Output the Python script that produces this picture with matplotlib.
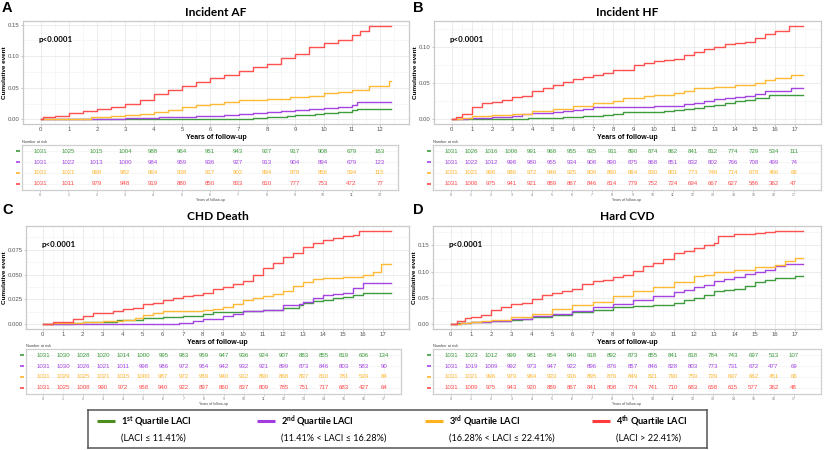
import matplotlib
matplotlib.use("Agg")
import matplotlib.pyplot as plt
import matplotlib.transforms as mtransforms
import numpy as np

plt.rcParams["font.family"] = ["Liberation Sans", "DejaVu Sans"]
plt.rcParams["mathtext.fontset"] = "custom"
plt.rcParams["mathtext.rm"] = "Lato:bold"
plt.rcParams["mathtext.bf"] = "Lato:bold"

# ------------------------------------------------------------
# Data
# ------------------------------------------------------------
quartiles = ["1st", "2nd", "3rd", "4th"]

# Incident AF
af_end = 12.4
af_q1_t = [0, 6.8, 7.5, 8.0, 8.7, 9.0, 9.7, 10.0, 10.5, 11.0, 11.2]
af_q1_y = [0, 0.001, 0.002, 0.004, 0.005, 0.007, 0.008, 0.010, 0.012, 0.014, 0.017]
af_q2_t = [0, 0.8, 3.0, 4.2, 5.0, 5.5, 6.0, 6.5, 7.0, 7.5, 8.0, 8.5, 9.0, 9.5, 10.0, 10.5, 11.0, 11.2]
af_q2_y = [0, 0.001, 0.002, 0.003, 0.004, 0.005, 0.006, 0.007, 0.008, 0.010, 0.012, 0.013, 0.015,
           0.016, 0.018, 0.020, 0.022, 0.028]
af_q3_t = [0, 1.3, 1.8, 2.5, 3.0, 3.5, 4.0, 4.5, 5.0, 5.5, 6.0, 6.5, 7.0, 8.0, 8.8, 9.5, 10.0,
           10.5, 11.0, 11.6, 12.3]
af_q3_y = [0, 0.001, 0.004, 0.006, 0.007, 0.009, 0.012, 0.015, 0.019, 0.022, 0.025, 0.027, 0.030,
           0.032, 0.035, 0.037, 0.041, 0.044, 0.046, 0.052, 0.061]
af_q4_t = [0, 0.1, 0.5, 1.0, 1.5, 2.0, 2.5, 3.0, 3.5, 4.0, 4.5, 5.0, 5.5, 6.0, 6.5, 7.0, 7.5, 8.0,
           8.5, 9.0, 9.5, 10.0, 10.5, 11.0, 11.3, 11.6]
af_q4_y = [0, 0.004, 0.006, 0.010, 0.013, 0.016, 0.019, 0.025, 0.030, 0.040, 0.047, 0.052, 0.059,
           0.066, 0.070, 0.076, 0.083, 0.088, 0.097, 0.103, 0.114, 0.121, 0.126, 0.133, 0.140, 0.148]
af_years = list(range(0, 13))
af_risk_q1 = [1031, 1025, 1015, 1004, 988, 964, 951, 943, 927, 917, 908, 679, 163]
af_risk_q2 = [1031, 1022, 1013, 1000, 984, 959, 936, 927, 913, 904, 894, 679, 123]
af_risk_q3 = [1031, 1021, 998, 982, 964, 938, 917, 902, 894, 878, 856, 594, 115]
af_risk_q4 = [1031, 1011, 979, 948, 919, 880, 850, 833, 810, 777, 753, 472, 77]

# Incident HF
hf_end = 17.4
hf_q1_t = [0, 3.8, 5.5, 6.5, 7.0, 7.5, 8.0, 8.5, 10.5, 11.0, 11.5, 12.0, 12.5, 13.0, 13.5, 14.0,
           14.5, 15.0, 15.7]
hf_q1_y = [0, 0.002, 0.003, 0.004, 0.005, 0.006, 0.008, 0.010, 0.012, 0.013, 0.015, 0.016, 0.018,
           0.020, 0.022, 0.025, 0.027, 0.030, 0.034]
hf_q2_t = [0, 0.8, 2.0, 3.0, 3.5, 4.0, 5.0, 5.5, 6.0, 6.5, 7.0, 10.0, 11.0, 11.5, 12.0, 12.5, 13.0,
           13.5, 14.0, 14.5, 15.0, 15.5, 16.8]
hf_q2_y = [0, 0.002, 0.003, 0.004, 0.007, 0.009, 0.010, 0.011, 0.013, 0.015, 0.017, 0.018, 0.019,
           0.021, 0.023, 0.025, 0.028, 0.029, 0.031, 0.033, 0.035, 0.040, 0.043]
hf_q3_t = [0, 0.5, 1.0, 2.0, 3.0, 4.0, 5.0, 6.0, 7.0, 8.0, 8.5, 9.5, 10.0, 11.0, 11.5, 12.0, 13.0,
           14.0, 15.0, 15.5, 16.0, 16.8]
hf_q3_y = [0, 0.002, 0.004, 0.006, 0.008, 0.011, 0.015, 0.019, 0.022, 0.026, 0.030, 0.032, 0.034,
           0.037, 0.039, 0.043, 0.045, 0.047, 0.050, 0.054, 0.057, 0.062]
hf_q4_t = [0, 0.2, 0.5, 1.0, 1.5, 2.0, 2.5, 3.0, 3.5, 4.0, 4.5, 5.0, 5.5, 6.0, 6.5, 7.0, 7.5, 8.0,
           8.5, 9.0, 9.5, 10.0, 10.5, 11.0, 11.5, 12.0, 12.5, 13.0, 13.5, 14.0, 14.5, 15.0, 15.5,
           16.0, 16.7]
hf_q4_y = [0, 0.003, 0.008, 0.017, 0.023, 0.024, 0.027, 0.031, 0.033, 0.040, 0.044, 0.047, 0.052,
           0.056, 0.059, 0.061, 0.064, 0.068, 0.069, 0.075, 0.078, 0.081, 0.082, 0.084, 0.089,
           0.094, 0.098, 0.100, 0.104, 0.106, 0.107, 0.113, 0.119, 0.123, 0.130]
hf_years = list(range(0, 18))
hf_risk_q1 = [1031, 1026, 1016, 1006, 991, 968, 955, 935, 911, 890, 874, 862, 841, 812, 774, 729, 534, 111]
hf_risk_q2 = [1031, 1022, 1012, 998, 980, 955, 934, 908, 890, 875, 868, 851, 832, 802, 766, 708, 499, 74]
hf_risk_q3 = [1031, 1021, 998, 986, 972, 946, 925, 909, 890, 864, 830, 801, 773, 746, 714, 678, 466, 68]
hf_risk_q4 = [1031, 1006, 975, 941, 921, 889, 867, 846, 814, 779, 752, 724, 694, 667, 627, 586, 362, 47]

# CHD death
chd_end = 17.4
chd_q1_t = [0, 1.5, 2.0, 3.7, 5.0, 6.0, 7.0, 8.0, 8.5, 10.0, 11.0, 12.0, 12.8, 13.0, 13.5, 14.0,
            14.5, 15.0, 15.5, 16.0]
chd_q1_y = [0, 0.001, 0.002, 0.004, 0.006, 0.007, 0.008, 0.010, 0.012, 0.013, 0.014, 0.016, 0.019,
            0.021, 0.023, 0.024, 0.026, 0.027, 0.029, 0.031]
chd_q2_t = [0, 6.8, 7.5, 8.0, 9.0, 9.5, 10.0, 11.0, 12.0, 12.8, 13.0, 13.5, 14.0, 14.5, 15.0, 15.5, 16.0]
chd_q2_y = [0, 0.001, 0.003, 0.005, 0.008, 0.010, 0.013, 0.014, 0.019, 0.020, 0.022, 0.026, 0.029,
            0.030, 0.031, 0.036, 0.041]
chd_q3_t = [0, 0.5, 2.0, 3.0, 4.0, 4.6, 5.0, 5.5, 6.0, 8.0, 8.5, 9.0, 9.5, 10.0, 10.5, 11.0, 11.5,
            12.0, 12.5, 13.0, 13.5, 14.0, 15.0, 16.0, 16.5, 16.9]
chd_q3_y = [0, 0.001, 0.002, 0.003, 0.004, 0.006, 0.009, 0.011, 0.013, 0.014, 0.015, 0.017, 0.020,
            0.024, 0.026, 0.028, 0.030, 0.033, 0.038, 0.042, 0.045, 0.047, 0.048, 0.050, 0.053, 0.061]
chd_q4_t = [0, 0.5, 1.0, 1.5, 2.0, 2.5, 3.0, 3.5, 4.0, 4.5, 5.0, 5.5, 6.0, 6.5, 7.0, 7.5, 8.0, 8.5,
            9.0, 9.5, 10.0, 10.5, 11.0, 11.5, 12.0, 12.5, 13.0, 13.5, 14.0, 14.5, 15.0, 15.5, 15.8]
chd_q4_y = [0, 0.002, 0.002, 0.005, 0.008, 0.011, 0.011, 0.013, 0.015, 0.016, 0.020, 0.021, 0.024,
            0.026, 0.028, 0.029, 0.031, 0.035, 0.037, 0.040, 0.043, 0.050, 0.057, 0.062, 0.068,
            0.072, 0.078, 0.082, 0.085, 0.087, 0.089, 0.090, 0.094]
chd_years = list(range(0, 18))
chd_risk_q1 = [1031, 1030, 1028, 1020, 1014, 1000, 995, 983, 959, 947, 936, 924, 907, 883, 855, 819, 606, 134]
chd_risk_q2 = [1031, 1030, 1026, 1021, 1011, 998, 986, 972, 954, 942, 932, 921, 899, 873, 846, 803, 583, 90]
chd_risk_q3 = [1031, 1029, 1025, 1021, 1015, 1000, 987, 972, 959, 940, 912, 890, 868, 837, 810, 781, 539, 84]
chd_risk_q4 = [1031, 1025, 1008, 990, 972, 958, 940, 922, 897, 860, 837, 809, 785, 751, 717, 683, 427, 64]

# Hard CVD
cvd_end = 17.4
cvd_q1_t = [0, 0.3, 1.0, 2.0, 3.0, 3.5, 4.0, 5.0, 6.0, 7.0, 8.0, 9.0, 10.0, 11.0, 11.5, 12.0, 12.5,
            13.0, 13.5, 14.0, 14.5, 15.0, 15.5, 16.0, 17.0]
cvd_q1_y = [0, 0.003, 0.004, 0.006, 0.008, 0.010, 0.013, 0.018, 0.023, 0.027, 0.033, 0.035, 0.037,
            0.041, 0.046, 0.050, 0.055, 0.063, 0.066, 0.068, 0.073, 0.080, 0.085, 0.089, 0.092]
cvd_q2_t = [0, 0.5, 1.0, 2.0, 3.0, 4.0, 5.0, 6.0, 7.0, 8.0, 9.0, 10.0, 11.0, 11.5, 12.0, 12.5, 13.0,
            13.5, 14.0, 14.5, 15.0, 15.5, 16.0, 16.5]
cvd_q2_y = [0, 0.002, 0.004, 0.006, 0.011, 0.015, 0.020, 0.026, 0.032, 0.039, 0.046, 0.053, 0.061,
            0.066, 0.071, 0.074, 0.082, 0.087, 0.090, 0.095, 0.100, 0.104, 0.111, 0.115]
cvd_q3_t = [0, 0.5, 1.0, 1.5, 2.0, 3.0, 4.0, 5.0, 6.0, 7.0, 8.0, 9.0, 10.0, 11.0, 12.0, 12.5, 13.0,
            14.0, 15.0, 16.0, 16.5, 17.0]
cvd_q3_y = [0, 0.002, 0.004, 0.006, 0.008, 0.013, 0.020, 0.030, 0.036, 0.043, 0.053, 0.064, 0.071,
            0.080, 0.091, 0.094, 0.100, 0.104, 0.109, 0.113, 0.120, 0.126]
cvd_q4_t = [0, 0.3, 0.7, 1.0, 1.5, 2.0, 2.5, 3.0, 3.5, 4.0, 4.5, 5.0, 5.5, 6.0, 6.5, 7.0, 7.5, 8.0,
            8.5, 9.0, 9.5, 10.0, 10.5, 11.0, 11.5, 12.0, 12.5, 13.0, 13.2, 14.0, 15.0, 15.5, 16.0]
cvd_q4_y = [0, 0.006, 0.012, 0.014, 0.018, 0.027, 0.033, 0.038, 0.041, 0.048, 0.055, 0.060, 0.064,
            0.068, 0.077, 0.082, 0.085, 0.090, 0.094, 0.102, 0.111, 0.117, 0.124, 0.135, 0.139,
            0.145, 0.150, 0.155, 0.168, 0.171, 0.173, 0.175, 0.178]
cvd_years = list(range(0, 18))
cvd_risk_q1 = [1031, 1023, 1012, 999, 981, 954, 940, 918, 892, 873, 855, 841, 818, 784, 743, 697, 513, 107]
cvd_risk_q2 = [1031, 1019, 1009, 992, 973, 947, 922, 896, 876, 857, 846, 828, 803, 773, 731, 672, 477, 69]
cvd_risk_q3 = [1031, 1021, 996, 979, 964, 933, 916, 895, 876, 849, 821, 790, 759, 729, 697, 662, 451, 66]
cvd_risk_q4 = [1031, 1009, 975, 943, 920, 889, 867, 841, 808, 774, 741, 710, 683, 658, 615, 577, 362, 48]

legend_titles = ["1$^{\\mathrm{st}}$ Quartile LACI", "2$^{\\mathrm{nd}}$ Quartile LACI",
                 "3$^{\\mathrm{rd}}$ Quartile LACI", "4$^{\\mathrm{th}}$ Quartile LACI"]
legend_ranges = ["(LACI \u2264 11.41%)", "(11.41% < LACI \u2264 16.28%)",
                 "(16.28% < LACI \u2264 22.41%)", "(LACI > 22.41%)"]

# ------------------------------------------------------------
# Styling / layout
# ------------------------------------------------------------
line_colors = ["#3E9B3E", "#A445E2", "#FFB935", "#FF5050"]
text_colors = ["#3E9B3E", "#A445E2", "#FFB62E", "#FF4A4A"]
legend_colors = ["#4C8F1E", "#A23BE0", "#FFB21F", "#FF3B3B"]
W, H = 824, 450


def rect(l, t, r, b):
    return [l / W, 1 - b / H, (r - l) / W, (b - t) / H]


panels = [
    dict(letter="A", title="Incident AF", box=(23, 21, 409, 124), tbox=(22, 145, 398, 190),
         xlim=(-0.62, 13.02), txlim=(-0.635, 12.64), title_y=13, letter_x=2, letter_y=1,
         ylab_x=4.5,
         curves=[(af_q1_t, af_q1_y), (af_q2_t, af_q2_y), (af_q3_t, af_q3_y), (af_q4_t, af_q4_y)],
         end=af_end, years=af_years, risk=[af_risk_q1, af_risk_q2, af_risk_q3, af_risk_q4],
         yticks=[0, 0.05, 0.10, 0.15], yfmt="{:.2f}", ylim=(-0.0074, 0.1556)),
    dict(letter="B", title="Incident HF", box=(434, 21, 821, 124), tbox=(433, 145, 821, 190),
         xlim=(-0.87, 18.27), txlim=(-0.89, 18.35), title_y=13, letter_x=413, letter_y=1,
         ylab_x=415.5,
         curves=[(hf_q1_t, hf_q1_y), (hf_q2_t, hf_q2_y), (hf_q3_t, hf_q3_y), (hf_q4_t, hf_q4_y)],
         end=hf_end, years=hf_years, risk=[hf_risk_q1, hf_risk_q2, hf_risk_q3, hf_risk_q4],
         yticks=[0, 0.05, 0.10], yfmt="{:.2f}", ylim=(-0.0065, 0.1365)),
    dict(letter="C", title="CHD Death", box=(26, 226, 409, 329), tbox=(26, 349, 401, 394),
         xlim=(-0.84, 18.3), txlim=(-0.85, 17.85), title_y=216, letter_x=2, letter_y=203,
         ylab_x=4.5,
         curves=[(chd_q1_t, chd_q1_y), (chd_q2_t, chd_q2_y), (chd_q3_t, chd_q3_y), (chd_q4_t, chd_q4_y)],
         end=chd_end, years=chd_years, risk=[chd_risk_q1, chd_risk_q2, chd_risk_q3, chd_risk_q4],
         yticks=[0, 0.025, 0.050, 0.075], yfmt="{:.3f}", ylim=(-0.0047, 0.0987)),
    dict(letter="D", title="Hard CVD", box=(433, 226, 821, 329), tbox=(433, 349, 821, 394),
         xlim=(-0.87, 18.27), txlim=(-0.89, 18.35), title_y=216, letter_x=413, letter_y=203,
         ylab_x=414.5,
         curves=[(cvd_q1_t, cvd_q1_y), (cvd_q2_t, cvd_q2_y), (cvd_q3_t, cvd_q3_y), (cvd_q4_t, cvd_q4_y)],
         end=cvd_end, years=cvd_years, risk=[cvd_risk_q1, cvd_risk_q2, cvd_risk_q3, cvd_risk_q4],
         yticks=[0, 0.05, 0.10, 0.15], yfmt="{:.2f}", ylim=(-0.0089, 0.1869)),
]

fig = plt.figure(figsize=(W / 100, H / 100), dpi=100)

for p in panels:
    l, t, r, b = p["box"]
    ax = fig.add_axes(rect(l, t, r, b))
    for (tt, yy), col in zip(p["curves"], line_colors):
        ax.step(np.r_[tt, p["end"]], np.r_[yy, yy[-1]], where="post", color=col, lw=1.0)
    ax.set_xlim(*p["xlim"])
    ax.set_ylim(*p["ylim"])
    ax.set_xticks(p["years"])
    ax.set_xticks(np.arange(0.5, p["years"][-1] + 1, 1.0), minor=True)
    ax.set_yticks(p["yticks"])
    ax.set_yticklabels([p["yfmt"].format(v) for v in p["yticks"]])
    ystep = p["yticks"][1] - p["yticks"][0]
    ax.set_yticks(np.arange(ystep / 2, p["ylim"][1], ystep), minor=True)
    ax.grid(which="major", color="#e4e4e4", lw=0.5)
    ax.grid(which="minor", color="#f1f1f1", lw=0.4)
    ax.set_axisbelow(True)
    for s in ax.spines.values():
        s.set_color("#c9c9c9")
        s.set_linewidth(0.9)
    ax.tick_params(which="major", length=1.6, width=0.5, color="#aaaaaa", labelsize=4.3,
                   labelcolor="#555555", pad=0.8)
    ax.tick_params(which="minor", length=0)
    ax.set_xlabel("Years of follow-up", fontsize=5, fontweight="bold", labelpad=1)
    ax.set_ylabel("Cumulative event", fontsize=4.6, fontweight="bold", va="center")
    ax.yaxis.set_label_coords((p["ylab_x"] - l) / (r - l), 0.5)
    ax.text(0.04, 0.82, "p<0.0001", transform=ax.transAxes, fontsize=5.7, fontweight="bold",
            family=["Lato", "DejaVu Sans"], va="center")

    fig.text((l + r) / 2 / W, 1 - p["title_y"] / H, p["title"], ha="center", va="center",
             fontsize=8.6, fontweight="bold", family=["Lato", "DejaVu Sans"])
    fig.text(p["letter_x"] / W, 1 - p["letter_y"] / H, p["letter"],
             ha="left", va="top", fontsize=10.5, fontweight="bold")

    # number at risk table
    tl, tt_, tr, tb = p["tbox"]
    tab = fig.add_axes(rect(tl, tt_, tr, tb))
    tab.set_xlim(*p["txlim"])
    tab.set_ylim(0.4, 4.6)
    tab.set_xticks(p["years"])
    tab.set_yticks([1, 2, 3, 4])
    tab.set_yticklabels([])
    tab.grid(which="major", color="#f0f0f0", lw=0.4)
    tab.set_axisbelow(True)
    for s in tab.spines.values():
        s.set_color("#cfcfcf")
        s.set_linewidth(0.9)
    tab.tick_params(axis="x", length=1.5, width=0.4, color="#aaaaaa", labelsize=2.6,
                    labelcolor="#777777", pad=1)
    tab.tick_params(axis="y", length=0)
    tab.set_xlabel("Years of follow-up", fontsize=2.6, labelpad=0.5, color="#444444")
    tab.text(0.0, 1.03, "Number at risk", transform=tab.transAxes, fontsize=2.8,
             color="#444444", va="bottom")
    trans = mtransforms.blended_transform_factory(tab.transAxes, tab.transData)
    for i, (vals, col) in enumerate(zip(p["risk"], text_colors)):
        row = 4 - i
        for x, v in zip(p["years"], vals):
            tab.text(x, row, str(v), ha="center", va="center", color=col, fontsize=4.4)
        tab.plot([-0.016, -0.006], [row, row], transform=trans, color=col, lw=1.2,
                 clip_on=False, solid_capstyle="butt")

# ------------------------------------------------------------
# Legend box
# ------------------------------------------------------------
leg = fig.add_axes(rect(88, 410, 707, 448))
leg.set_xlim(88, 707)
leg.set_ylim(448, 410)
leg.set_xticks([])
leg.set_yticks([])
for s in leg.spines.values():
    s.set_color("#555555")
    s.set_linewidth(1.1)
line_x0 = [97, 257, 425, 592]
for x0, col, ttl, rng in zip(line_x0, legend_colors, legend_titles, legend_ranges):
    leg.plot([x0, x0 + 18], [421, 421], color=col, lw=2.2, solid_capstyle="butt")
    leg.text(x0 + 24, 421, ttl, fontsize=6.7, fontweight="bold", family=["Lato", "DejaVu Sans"],
             va="center", ha="left")
    leg.text(x0 + 24, 438, rng, fontsize=6.6, family=["Lato", "DejaVu Sans"],
             va="center", ha="left")

fig.savefig("out.png", dpi=100)
